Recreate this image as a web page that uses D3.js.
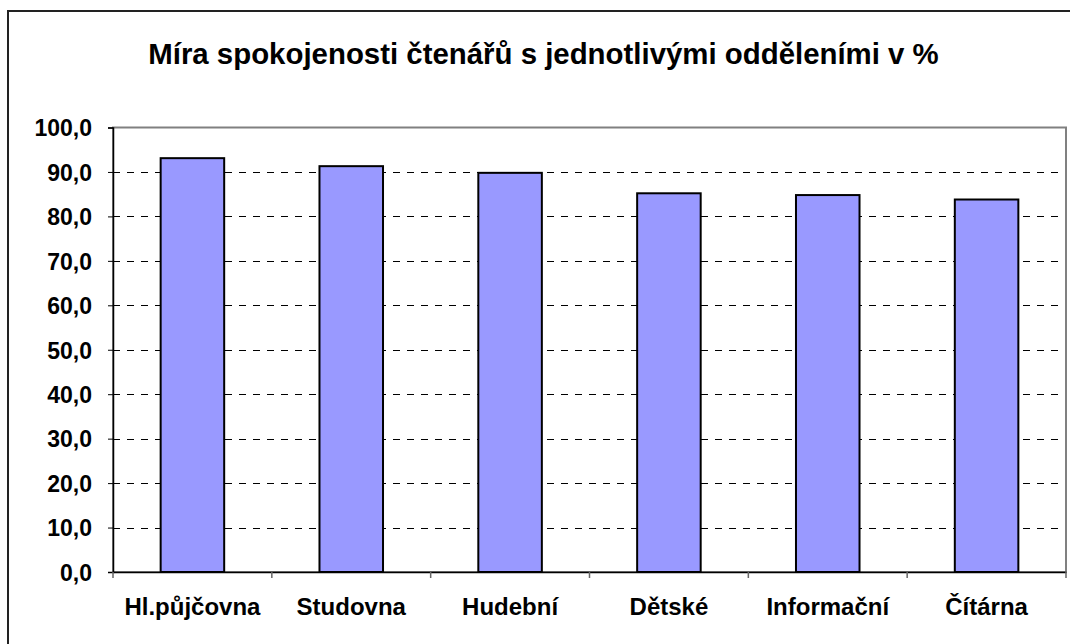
<!DOCTYPE html>
<html>
<head>
<meta charset="utf-8">
<script src="https://cdn.jsdelivr.net/npm/d3@7"></script>
<style>
  body { margin: 0; background: #fff; }
  svg text { font-family: "Liberation Sans", Arial, sans-serif; font-weight: bold; fill: #000; }
</style>
</head>
<body>
<script>
const categories = ["Hl.půjčovna", "Studovna", "Hudební", "Dětské", "Informační", "Čítárna"];
const values = [93.1, 91.3, 89.8, 85.2, 84.8, 83.8];
const yTicks = [0, 10, 20, 30, 40, 50, 60, 70, 80, 90, 100];
const title = "Míra spokojenosti čtenářů s jednotlivými odděleními v %";

const w = 1070;
const h = 644;
const plot = { left: 113, right: 1066, top: 127.5, bottom: 572 };

const svg = d3.select("body")
              .append("svg")
              .attr("width", w)
              .attr("height", h);

// outer chart border (runs off the right and bottom edges)
svg.append("rect")
   .attr("x", 8)
   .attr("y", 11)
   .attr("width", w)
   .attr("height", h)
   .attr("fill", "none")
   .attr("stroke", "#222")
   .attr("stroke-width", 2);

svg.append("text")
   .attr("x", 543.5)
   .attr("y", 64)
   .attr("text-anchor", "middle")
   .style("font-size", "29.4px")
   .text(title);

const xScale = d3.scaleBand()
                 .domain(categories)
                 .range([plot.left, plot.right])
                 .padding(0);

const yScale = d3.scaleLinear()
                 .domain([0, 100])
                 .range([plot.bottom, plot.top]);

// dashed gridlines
svg.append("g")
   .selectAll("line")
   .data(yTicks.filter((d) => d > 0 && d < 100))
   .enter()
   .append("line")
   .attr("x1", plot.left)
   .attr("x2", plot.right)
   .attr("y1", (d) => Math.round(yScale(d)) + 0.5)
   .attr("y2", (d) => Math.round(yScale(d)) + 0.5)
   .attr("stroke", "#000")
   .attr("stroke-width", 1)
   .attr("stroke-dasharray", "7,7");

// plot frame
svg.append("rect")
   .attr("x", plot.left)
   .attr("y", plot.top)
   .attr("width", plot.right - plot.left)
   .attr("height", plot.bottom - plot.top)
   .attr("fill", "none")
   .attr("stroke", "#808080")
   .attr("stroke-width", 2);

// bars
const bw = xScale.bandwidth();
svg.append("g")
   .selectAll("rect")
   .data(values)
   .enter()
   .append("rect")
   .attr("x", (d, i) => xScale(categories[i]) + bw * 0.3)
   .attr("y", (d) => yScale(d))
   .attr("width", bw * 0.4)
   .attr("height", (d) => plot.bottom - yScale(d))
   .attr("fill", "#9999ff")
   .attr("stroke", "#000")
   .attr("stroke-width", 2);

// y axis
const yAxis = d3.axisLeft(yScale)
                .tickValues(yTicks)
                .tickSize(5)
                .tickPadding(16)
                .tickFormat((d) => d.toFixed(1).replace(".", ","));

const gy = svg.append("g")
              .attr("transform", "translate(" + plot.left + ",0)")
              .call(yAxis);
gy.select(".domain").attr("stroke", "#000").attr("stroke-width", 1.5);
gy.selectAll(".tick line").attr("stroke", "#000");
gy.selectAll(".tick text").style("font-size", "23px").attr("dy", "0.36em");

// x axis: labels at band centres, ticks at band edges
const xAxis = d3.axisBottom(xScale)
                .tickSize(0)
                .tickPadding(26);

const gx = svg.append("g")
              .attr("transform", "translate(0," + plot.bottom + ")")
              .call(xAxis);
gx.select(".domain").attr("stroke", "#000").attr("stroke-width", 1.5);
gx.selectAll(".tick text").style("font-size", "24px");

gx.selectAll("line.edge")
  .data(categories.map((c) => xScale(c)).concat([plot.right]))
  .enter()
  .append("line")
  .attr("class", "edge")
  .attr("x1", (d) => d)
  .attr("x2", (d) => d)
  .attr("y1", 0)
  .attr("y2", 6)
  .attr("stroke", "#666")
  .attr("stroke-width", 1.5);
</script>
</body>
</html>
